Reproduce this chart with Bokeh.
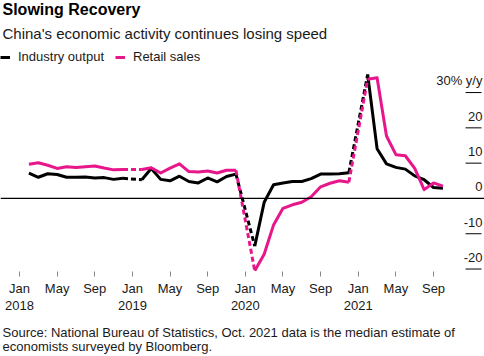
from bokeh.plotting import figure
from bokeh.models import (Range1d, LinearAxis, FixedTicker, Title, Legend,
                          LegendItem, Span)
from bokeh.embed import file_html
from bokeh.resources import INLINE
from bokeh.core.properties import value

# ---------------- data ----------------
months = ["2018-02", "2018-03", "2018-04", "2018-05", "2018-06", "2018-07",
          "2018-08", "2018-09", "2018-10", "2018-11", "2018-12",
          "2019-02", "2019-03", "2019-04", "2019-05", "2019-06", "2019-07",
          "2019-08", "2019-09", "2019-10", "2019-11", "2019-12",
          "2020-02", "2020-03", "2020-04", "2020-05", "2020-06", "2020-07",
          "2020-08", "2020-09", "2020-10", "2020-11", "2020-12",
          "2021-02", "2021-03", "2021-04", "2021-05", "2021-06", "2021-07",
          "2021-08", "2021-09", "2021-10"]
industry = [7.2, 6.0, 7.0, 6.8, 6.0, 6.0, 6.1, 5.8, 5.9, 5.4, 5.7,
            5.3, 8.5, 5.4, 5.0, 6.3, 4.8, 4.4, 5.8, 4.7, 6.2, 6.9,
            -13.5, -1.1, 3.9, 4.4, 4.8, 4.8, 5.6, 6.9, 6.9, 7.0, 7.3,
            35.1, 14.1, 9.8, 8.8, 8.3, 6.4, 5.3, 3.1, 2.9]
retail = [9.7, 10.1, 9.4, 8.5, 9.0, 8.8, 9.0, 9.2, 8.6, 8.1, 8.2,
          8.2, 8.7, 7.2, 8.6, 9.8, 7.6, 7.5, 7.8, 7.2, 8.0, 8.0,
          -20.5, -15.8, -7.5, -2.8, -1.8, -1.1, 0.5, 3.3, 4.3, 5.0, 4.6,
          33.8, 34.2, 17.7, 12.4, 12.1, 8.5, 2.5, 4.4, 3.5]
month_ticks = [0, 4, 8, 12, 16, 20, 24, 28, 32, 36, 40, 44]
month_labels = ["Jan", "May", "Sep", "Jan", "May", "Sep",
                "Jan", "May", "Sep", "Jan", "May", "Sep"]
year_ticks = [0, 12, 24, 36]
year_labels = ["2018", "2019", "2020", "2021"]
y_ticks = [30, 20, 10, 0, -10, -20]
y_labels = ["30% y/y", "20", "10", "0", "-10", "-20"]
source_lines = ["Source: National Bureau of Statistics, Oct. 2021 data is the median estimate of",
                "economists surveyed by Bloomberg."]

FONT = "Liberation Sans"
BLACK = "#000000"
PINK = "#e8168b"
TEXT = "#1a1a1a"


def month_index(s):
    y, m = s.split("-")
    return (int(y) - 2018) * 12 + int(m) - 1


xs = [month_index(m) for m in months]


def split(xv, yv):
    sx, sy, dash = [], [], []
    cx, cy = [xv[0]], [yv[0]]
    for i in range(1, len(xv)):
        if xv[i] - xv[i - 1] > 1:
            sx.append(cx)
            sy.append(cy)
            dash.append((xv[i - 1], yv[i - 1], xv[i], yv[i]))
            cx, cy = [], []
        cx.append(xv[i])
        cy.append(yv[i])
    sx.append(cx)
    sy.append(cy)
    return sx, sy, dash


# ---------------- figure ----------------
px_per_month = 9.41
x0_px = 19.0
x_range = Range1d(-x0_px / px_per_month, (484 - x0_px) / px_per_month)
y_range = Range1d(-20.7, 42.2)

p = figure(width=484, height=356, output_backend="svg", toolbar_location=None,
           x_range=x_range, y_range=y_range, x_axis_type=None, y_axis_type=None,
           min_border_left=0, min_border_right=0, min_border_top=0,
           min_border_bottom=85, outline_line_color=None)
p.xgrid.visible = False
p.ygrid.visible = False

# zero line
p.add_layout(Span(location=0, dimension="width", line_color="#000000",
                  line_width=1.3))

# y tick marks and labels (right side, inside)
seg_ticks = [t for t in y_ticks if t != 0]
p.segment(x0=[47.4] * len(seg_ticks), x1=[49.1] * len(seg_ticks),
          y0=seg_ticks, y1=seg_ticks, line_color="#000000", line_width=1)
p.text(x=[49.2] * len(y_ticks), y=[t + 3.3 for t in y_ticks], text=y_labels,
       text_align="right", text_baseline="alphabetic",
       text_font=value(FONT), text_font_size="13px", text_color=TEXT)

renderers = {}
for name, vals, color in [("Industry output", industry, BLACK),
                          ("Retail sales", retail, PINK)]:
    sx, sy, dash = split(xs, vals)
    r = p.multi_line(sx, sy, line_color=color, line_width=3,
                     line_join="round")
    p.segment(x0=[d[0] for d in dash], y0=[d[1] for d in dash],
              x1=[d[2] for d in dash], y1=[d[3] for d in dash],
              line_color=color, line_width=3, line_dash="5 3")
    renderers[name] = r

legend = Legend(items=[LegendItem(label=k, renderers=[v]) for k, v in renderers.items()],
                location="top_left", orientation="horizontal",
                border_line_color=None, background_fill_alpha=0,
                margin=0, padding=3, spacing=11, label_standoff=8,
                glyph_width=10, glyph_height=14, label_height=14,
                label_text_font=FONT, label_text_font_size="13px",
                label_text_color=TEXT)
p.add_layout(legend)

# x axes
ax_m = LinearAxis(ticker=FixedTicker(ticks=month_ticks),
                  major_label_overrides={t: l for t, l in zip(month_ticks, month_labels)},
                  axis_line_color=None, major_tick_line_color="#888888",
                  major_tick_in=0, major_tick_out=5, minor_tick_line_color=None,
                  major_label_standoff=4, major_label_text_font=FONT,
                  major_label_text_font_size="13px",
                  major_label_text_color=TEXT)
ax_y = LinearAxis(ticker=FixedTicker(ticks=year_ticks),
                  major_label_overrides={t: l for t, l in zip(year_ticks, year_labels)},
                  axis_line_color=None, major_tick_line_color=None,
                  major_tick_in=0, major_tick_out=0, minor_tick_line_color=None,
                  major_label_standoff=2, major_label_text_font=FONT,
                  major_label_text_font_size="13px",
                  major_label_text_color=TEXT)
p.add_layout(ax_m, "below")
p.add_layout(ax_y, "below")

# leading blank line gives the gap above the source note
src = Title(text="\n" + "\n".join(source_lines),
            align="left", offset=2, standoff=-8, text_font=FONT,
            text_font_size="13px", text_font_style="normal",
            text_line_height=0.96, text_color=TEXT)
p.add_layout(src, "below")

sub = Title(text="China's economic activity continues losing speed",
            align="left", offset=2, standoff=15, text_font=FONT,
            text_font_size="15px", text_font_style="normal", text_color=TEXT)
main = Title(text="Slowing Recovery", align="left", offset=2, standoff=-4,
             text_font=FONT, text_font_size="16px", text_font_style="bold",
             text_color="#000000")
p.add_layout(sub, "above")
p.add_layout(main, "above")

open("out.html", "w").write(file_html(p, INLINE))
